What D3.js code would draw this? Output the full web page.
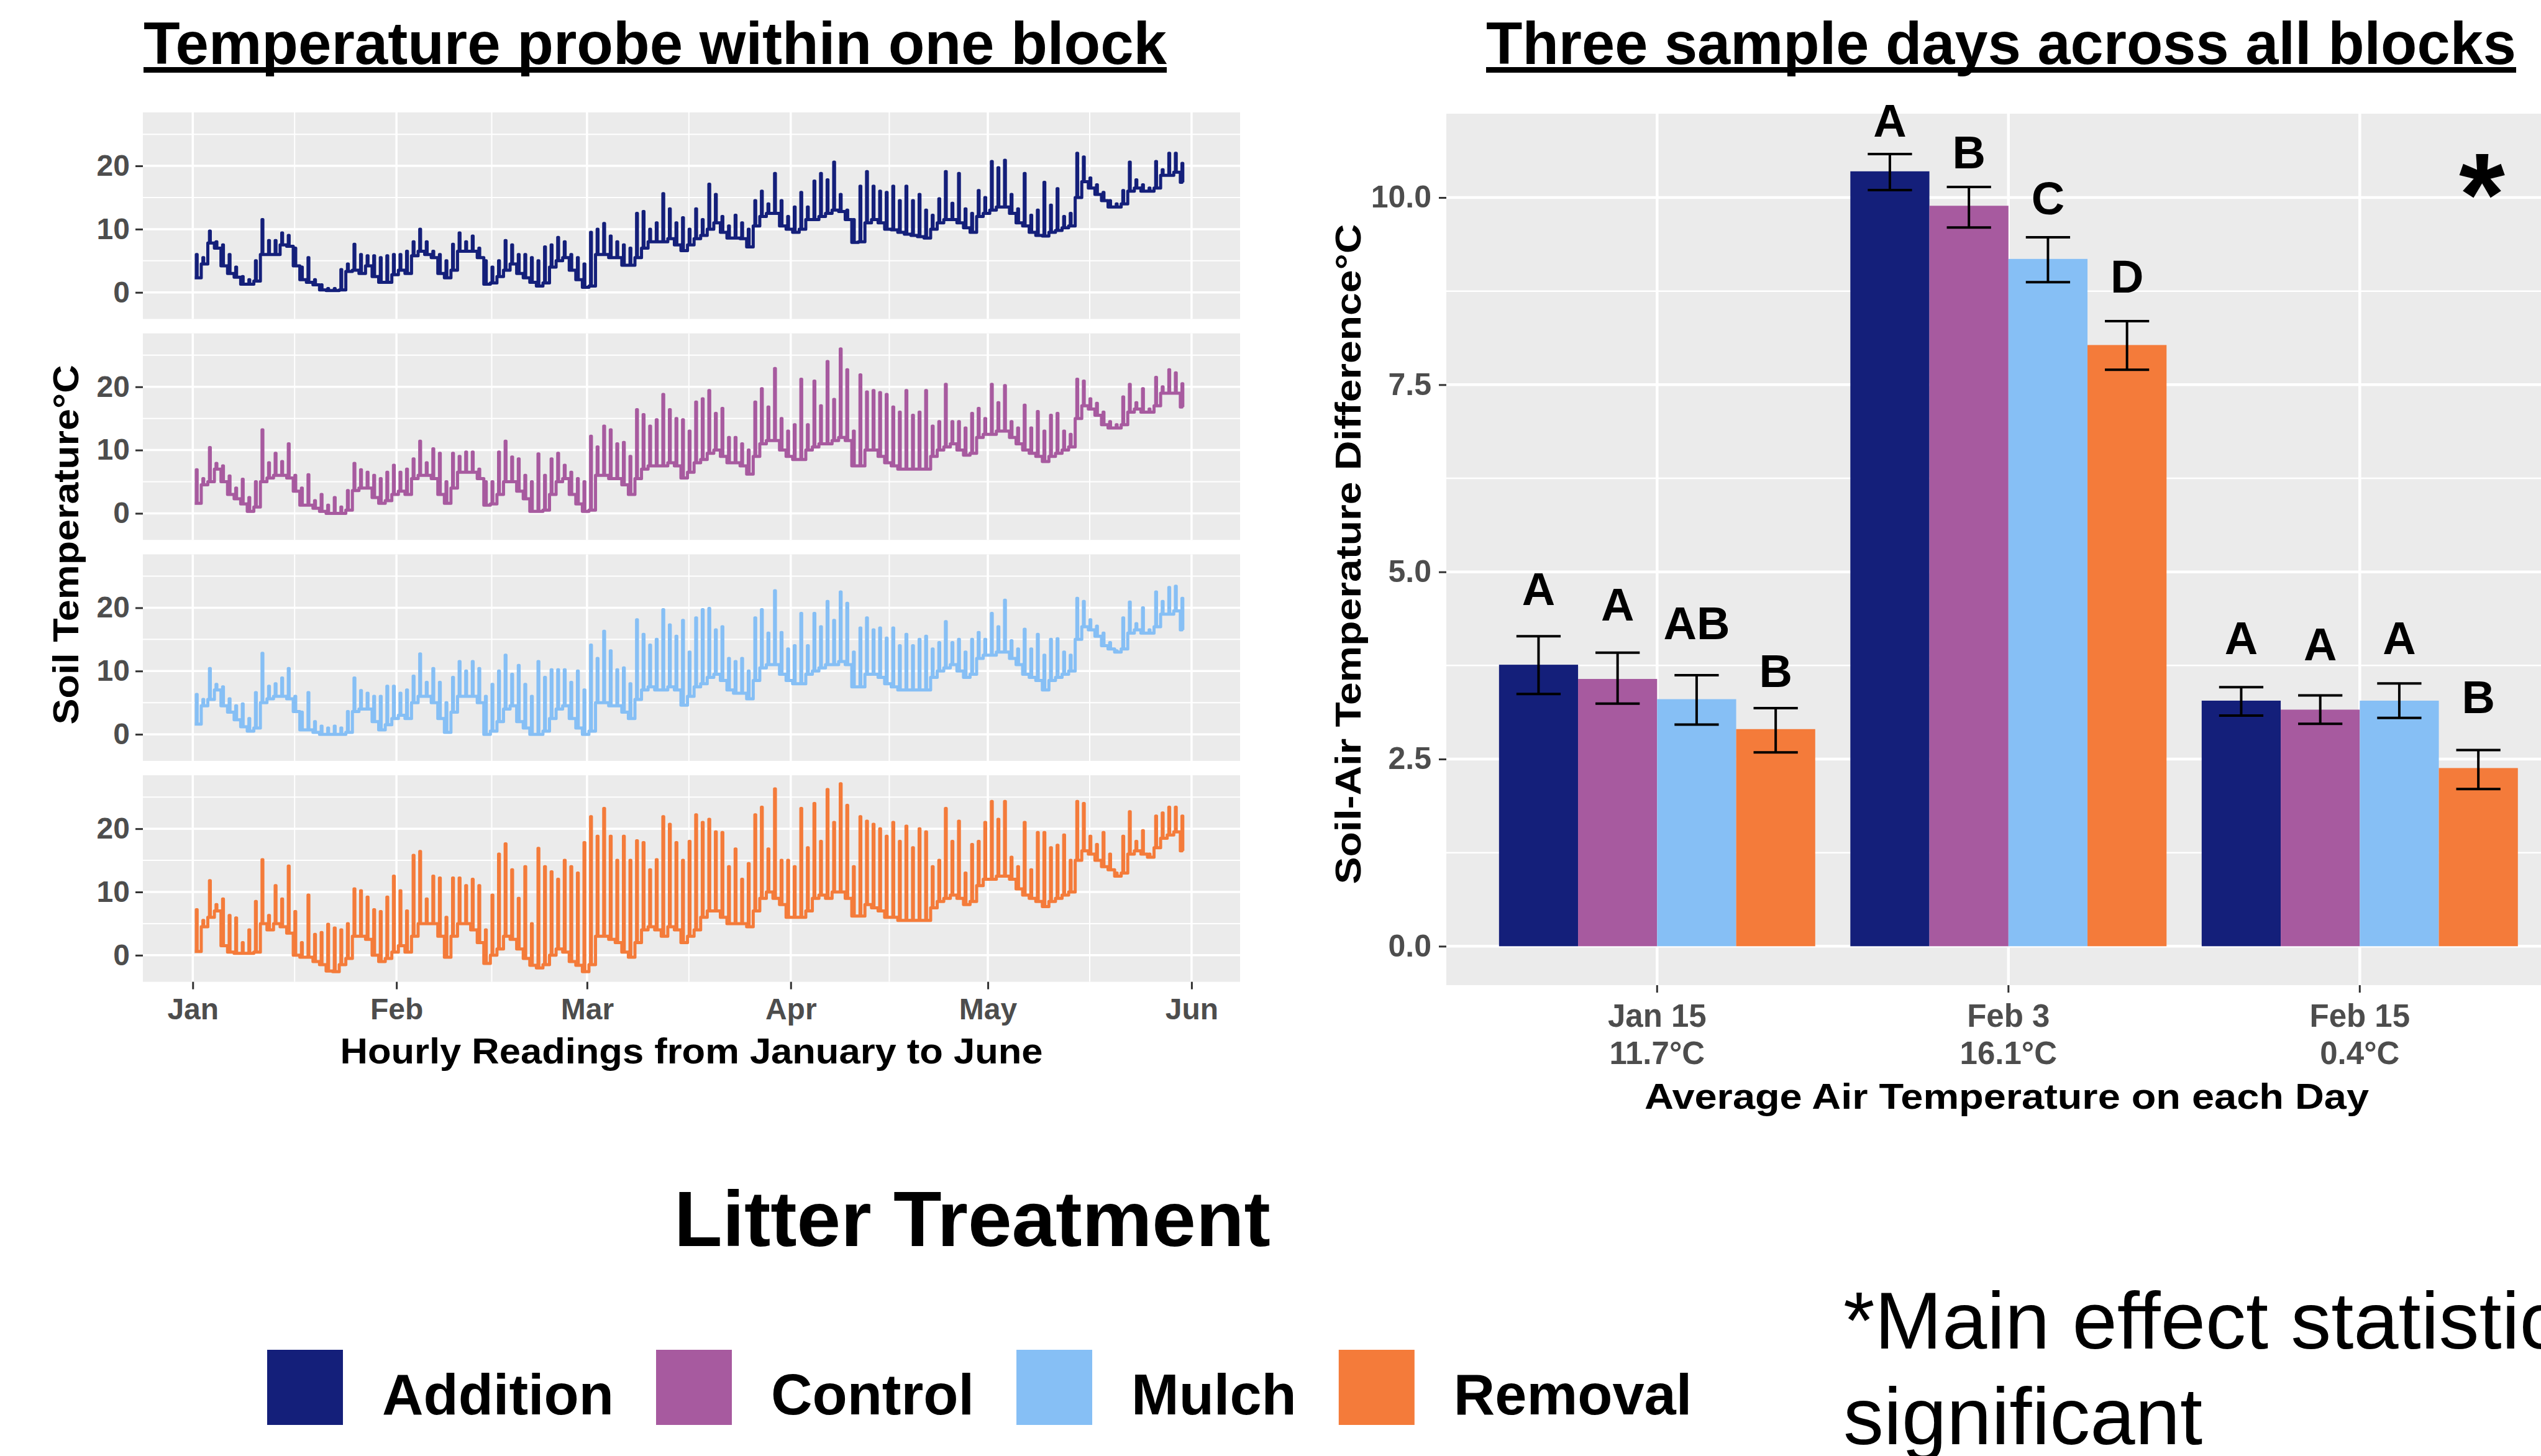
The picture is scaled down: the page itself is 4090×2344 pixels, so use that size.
<!DOCTYPE html>
<html>
<head>
<meta charset="utf-8">
<script src="https://cdn.jsdelivr.net/npm/d3@7"></script>
<style>
  body { margin: 0; background: #fff; }
  svg { display: block; font-family: "Liberation Sans", Arial, sans-serif; }
</style>
</head>
<body>
<svg id="figure" width="4090" height="2344"></svg>
<script>
//Litter treatments shared by both charts
const treatments = ["Addition", "Control", "Mulch", "Removal"];
const treatmentColors = ["#141F7A", "#A75A9F", "#86BFF5", "#F47B3A"];

//Daily high / low soil temperature, Jan 1 to May 31 2020
const additionHigh = [6, 5.5, 9.7, 8, 7.5, 6, 4, 2.5, 2, 5,
  11.5, 8.2, 8.2, 9.4, 9, 7, 4, 5.5, 2, 1.2,
  0.6, 0.6, 3.6, 4.5, 7.6, 6, 5.8, 5.8, 5.5, 5.8,
  6, 6, 6.5, 8, 10, 8, 6.5, 6, 5, 7.6,
  9.4, 8, 8.9, 7, 5, 4, 5, 8.2, 7.5, 6,
  6, 5.5, 5, 7.2, 7.5, 8.7, 8, 6, 5.5, 4.5,
  9.5, 10, 10.9, 8.9, 8, 7.5, 7, 12.5, 12.8, 10,
  11, 15.6, 13.2, 11, 11.8, 10, 13.2, 11.5, 17.1, 15.5,
  12, 10.5, 12.2, 11, 10, 14.5, 16, 14, 18.8, 14.5,
  12, 13.5, 15.8, 13.5, 17.6, 18.8, 17.8, 20.6, 15.5, 13,
  11.5, 16.8, 19.1, 16.8, 16, 15.8, 16.8, 14.5, 16.8, 14.5,
  15.5, 13, 12.2, 14.8, 19.1, 14.1, 18.8, 13.2, 12.5, 16.1,
  15, 20.7, 19.7, 20.9, 15.5, 13.2, 18.8, 12.2, 13, 17.4,
  13.8, 16.4, 12, 12.5, 22, 21.4, 18.1, 17, 15.8, 14.5,
  14, 16.1, 20.6, 17.8, 17, 16.5, 20.7, 19.4, 22, 22, 20.4];
const additionLow = [2.3, 4.5, 7.8, 7, 4.2, 3, 2.4, 1.3, 1.3, 1.8,
  6, 6, 6, 7.5, 7.3, 4.2, 2, 1.6, 1.2, 0.4,
  0.3, 0.3, 0.4, 3.3, 3.5, 3, 4.2, 2.5, 1.6, 1.6,
  2.8, 3.5, 3, 5.8, 6.5, 6, 5.5, 3, 2.3, 3.5,
  6.5, 6.5, 6.5, 5.5, 1.3, 1.5, 2.5, 3.5, 4.5, 3,
  2.3, 1.6, 1, 1.5, 4, 5, 5.5, 3.5, 2, 0.8,
  1, 6, 6, 5.5, 5.5, 4.3, 4.3, 5.5, 7, 8,
  8, 8, 8.5, 7.5, 6.6, 7.5, 8.5, 9, 10, 11,
  9.5, 8.6, 8.6, 8.5, 7.2, 10.5, 12, 12.5, 12.5, 10.5,
  10, 9.5, 10, 11.5, 11.5, 12, 12.5, 13, 12.8, 11.5,
  7.9, 8, 11, 11.5, 11, 10, 9.9, 9.5, 9.2, 9,
  8.8, 8.6, 10, 11, 11.5, 11.5, 11, 10.2, 9.5, 12,
  12.5, 13, 13.5, 13.5, 12.5, 11, 10.5, 9.5, 9, 8.9,
  9.5, 9.8, 10.2, 10.5, 15, 17.5, 16.5, 15.5, 14.5, 13.5,
  13.5, 14, 16, 16.5, 16, 16, 16.5, 18.5, 18.5, 19, 17.4];

const controlHigh = [6.9, 5.5, 10.4, 7.9, 7.5, 5.9, 4, 5.4, 2.5, 5,
  13.2, 8, 9.5, 8.2, 11, 6, 4, 6.1, 2, 3,
  1.3, 2.5, 1, 3.6, 7.9, 6.9, 6.5, 6, 5.5, 6.5,
  7.6, 6.5, 7, 8.6, 11.4, 8, 10.2, 9.5, 5, 9.5,
  9, 9.7, 9.7, 7, 5, 5, 9.7, 11.4, 8.9, 8.6,
  6, 5, 9.4, 6, 8.6, 9.5, 7.6, 6.5, 5.5, 5,
  12.2, 10.5, 13.8, 13.2, 11, 11.2, 9, 16.4, 15.6, 13.8,
  14.8, 18.8, 16.4, 15, 14.8, 13, 17.6, 18.1, 19.4, 15.8,
  16.6, 12, 12, 11, 10, 17.6, 19.7, 16.8, 22.9, 15,
  13, 14, 21.2, 14, 20.9, 17, 24, 18, 26, 22.7,
  13, 21.9, 19.2, 19.4, 19.1, 18.8, 16.8, 16, 19.4, 15.5,
  16, 19.4, 13.8, 14.5, 20.4, 14.5, 14.5, 13.5, 15.8, 16.6,
  15, 20.4, 17.5, 20.2, 14.5, 13.5, 17.1, 13.5, 16.1, 13,
  15.5, 15.8, 13, 12.5, 21.2, 20.9, 18.1, 17.4, 16, 14.5,
  14, 18.4, 20.4, 17.5, 19.7, 16.5, 21.5, 20, 22.7, 22.2, 20.5];
const controlLow = [1.6, 4.5, 5, 7, 5, 3, 2.3, 1.5, 0.3, 1,
  5, 5.6, 6, 6, 5.6, 3.5, 1.3, 1.3, 0.8, 0.3,
  0, 0, 0, 0.5, 3.6, 4, 4, 2.5, 1.6, 2,
  3, 3.5, 3, 5.5, 6, 6, 5.5, 3, 1.6, 4,
  6.5, 6.5, 6.5, 5.5, 1.3, 1.5, 3, 5, 5, 3.5,
  2.3, 0.3, 0.3, 0.5, 3, 5, 5.5, 3, 1.5, 0.3,
  0.5, 6, 6, 5.5, 5.5, 4.5, 3, 5.5, 7, 7.5,
  7.5, 7.5, 8, 7.5, 5.6, 6.5, 8, 8.5, 9.5, 10,
  9, 8, 8, 7.5, 6.2, 9, 11, 11.5, 11.5, 10,
  9, 8.5, 8.5, 10, 10.5, 11, 11, 11.5, 12, 11.5,
  7.5, 7.5, 10, 10, 9, 8, 7.5, 7, 7, 7,
  7, 7, 9, 10, 10.5, 11, 10, 9.2, 9.5, 12,
  12.5, 12.5, 13, 13, 12, 11, 10, 9.5, 9, 8.2,
  9, 9.5, 10, 10.5, 15, 17, 16.5, 15.5, 14, 13.5,
  13.5, 14, 16, 16.5, 16, 16, 17, 19, 19, 19, 16.8];

const mulchHigh = [6.3, 5.5, 10.4, 7.9, 7.5, 5.6, 4.5, 4.8, 2.5, 6.6,
  12.8, 7.6, 8, 8.9, 10.4, 6, 3.5, 6.6, 2, 1.3,
  1, 1.3, 1, 3.6, 8.9, 6.9, 6.5, 6, 6, 7.6,
  7.6, 6.5, 7, 9.2, 12.7, 8.2, 10.4, 8.2, 5, 9,
  11.5, 10, 11.5, 10.4, 6, 7.9, 10, 12.5, 9.5, 10.9,
  7.9, 6, 11.5, 9, 10.2, 10.2, 10.2, 8.2, 10, 7,
  14.1, 12, 16.3, 13.2, 10.2, 10.5, 8, 18.1, 15.8, 14.1,
  15, 19.7, 17.3, 15.5, 18, 13, 18.4, 19.7, 19.9, 16.5,
  17, 12, 11.5, 12, 10, 18.4, 19.7, 16, 22.7, 16.1,
  13.5, 14, 19.1, 14, 19.1, 17, 21, 18, 22.5, 20.7,
  13, 16.8, 18.4, 16.5, 16.8, 15.2, 16.8, 14, 15.8, 14,
  15, 15.5, 13.5, 14.5, 17.8, 14.5, 15, 13, 15, 16.1,
  15, 19.1, 17, 21.2, 14.8, 13.5, 16.6, 13.5, 15.8, 12.5,
  15, 15.1, 13, 12.5, 21.5, 21, 18.1, 17.1, 16, 14.5,
  13.2, 18.4, 20.9, 17.5, 20, 16.5, 22.5, 21, 23.2, 23.4, 21.5];
const mulchLow = [1.6, 4.5, 5.5, 7, 4.5, 3.5, 2.3, 1.2, 0.5, 1,
  5, 5.6, 6, 6, 5.6, 3.6, 0.7, 0.7, 0.3, 0,
  0, 0, 0, 0.3, 3.6, 4, 4, 2, 0.7, 1.5,
  2.5, 3, 2.5, 5, 6, 6, 5, 2.5, 0.3, 3.5,
  6, 6, 6, 5, 0, 0.5, 2, 4, 4.5, 2,
  1, 0, 0, 0.5, 2.5, 4, 4.5, 2.5, 1, 0,
  0.5, 5, 5, 4.5, 4.5, 3.5, 2.5, 5.5, 7, 7.5,
  7, 7, 7.5, 7, 4.6, 6, 7.5, 8, 9, 9.5,
  8.5, 7, 6.5, 6.5, 5.6, 8.5, 10.5, 11, 11, 9.5,
  8.5, 8, 8, 9.5, 10, 10.5, 11, 11, 11.5, 11,
  7.5, 7.5, 9.5, 9.5, 9, 8, 7.5, 7, 7, 7,
  7, 7, 9, 10, 10.5, 11, 10, 9, 9.5, 12,
  12.5, 12.5, 13, 13, 12, 11, 9.5, 9, 8.5, 7,
  8.5, 9, 9.5, 10, 15, 17, 16.5, 15.5, 14, 13.5,
  13, 13.5, 16, 16.5, 16, 16, 17, 19, 19, 19.5, 16.5];

const removalHigh = [7.2, 5.5, 11.8, 8, 8.9, 6.3, 5.9, 2, 4, 8.5,
  15.1, 6.3, 11, 8.9, 14.1, 6.9, 2, 9.5, 3.3, 3.6,
  4.9, 4.3, 4, 5, 10.5, 10.2, 9.2, 7.2, 6.9, 9.2,
  12.5, 10.2, 7, 15.8, 16.4, 8.9, 12.5, 12.2, 6, 12.2,
  12.2, 11, 12, 11, 4, 9.5, 16, 17.6, 13.5, 9,
  14, 5, 16.9, 14, 13.2, 12, 15, 14, 13, 17.8,
  21.9, 18.8, 23.2, 18.8, 15, 18.8, 15, 18.1, 17.8, 13.5,
  15.1, 21.9, 20.7, 17.8, 15, 18, 22.2, 21, 21.5, 19.5,
  19.4, 14, 16.8, 12, 14.5, 22.2, 23.4, 16.8, 26.3, 15,
  15, 14, 23.2, 17, 24, 18, 26.2, 21, 27.1, 23.7,
  14, 21.9, 21.2, 20.7, 20, 18.8, 21, 18, 20.4, 17,
  20, 19.5, 14, 15, 23.2, 18, 21.2, 13, 17.5, 18,
  21, 24.3, 21.5, 24.3, 15.5, 14, 21, 13.5, 19.4, 19.4,
  17, 17.4, 19, 15, 24.3, 24, 18.8, 17.5, 19.4, 16,
  13, 18.8, 22.7, 18, 19.7, 16, 22, 22.5, 23.4, 23.4, 22];
const removalLow = [0.6, 4.5, 6, 7, 1.5, 0.5, 0.3, 0.3, 0.3, 0.5,
  5, 4, 5, 4.5, 3.5, 0, -0.3, -0.3, -1, -1.5,
  -2.5, -2.6, -1.5, -0.5, 3, 3, 2.5, 0, -1, -0.5,
  0.5, 1.5, 0.5, 3, 5, 5, 5, 3, -0.3, 3,
  5, 5, 4, 2, -1.3, 0, 1, 3, 2.5, 1,
  -0.5, -1.6, -2, -1.5, 0, 1, 0.5, -1, -1.6, -2.6,
  -1.5, 3, 3, 2.5, 2, 0.5, -0.3, 2, 4, 4.5,
  4, 3, 4.5, 4, 2, 3, 4, 6, 7, 7,
  6, 5, 5, 5, 4.5, 7, 9, 10, 9, 8,
  6, 6, 6, 7, 9, 9.5, 9, 10, 10, 9,
  6.2, 6.2, 8, 7.5, 7, 6, 6, 5.5, 5.5, 5.5,
  5.5, 5.5, 7.5, 8.5, 9, 9.5, 9, 8, 8.5, 11,
  12, 12, 12.5, 12.5, 12, 10.5, 9.5, 9, 8.5, 7.7,
  8.5, 9, 9.5, 10, 15, 16.5, 16, 15, 14, 13.5,
  12.5, 13, 16, 16.5, 16, 15.5, 17, 18.5, 19, 19.5, 16.5];

const probeHigh = [additionHigh, controlHigh, mulchHigh, removalHigh];
const probeLow = [additionLow, controlLow, mulchLow, removalLow];
const probeTicks = [0, 10, 20];
const monthLabels = ["Jan", "Feb", "Mar", "Apr", "May", "Jun"];

//Soil minus air temperature on three sample days (mean and error bar limits)
const sampleDays = ["Jan 15", "Feb 3", "Feb 15"];
const airTemps = ["11.7°C", "16.1°C", "0.4°C"];
const meanDiff = [[3.76, 3.57, 3.30, 2.90], [10.35, 9.89, 9.18, 8.03], [3.28, 3.16, 3.28, 2.38]];
const diffUpper = [[4.14, 3.92, 3.62, 3.18], [10.58, 10.14, 9.47, 8.35], [3.46, 3.35, 3.51, 2.62]];
const diffLower = [[3.37, 3.24, 2.96, 2.59], [10.10, 9.60, 8.87, 7.70], [3.08, 2.97, 3.05, 2.10]];
const letters = [["A", "A", "AB", "B"], ["A", "B", "C", "D"], ["A", "A", "A", "B"]];
const letterY = [[4.56, 4.35, 4.10, 3.46], [10.81, 10.39, 9.78, 8.73], [3.90, 3.82, 3.90, 3.11]];
const diffTicks = [0, 2.5, 5, 7.5, 10];

const svg = d3.select("#figure");
const panelFill = "#EBEBEB";
const tickGrey = "#4D4D4D";

//Plain text helper
function addText(g, x, y, str, size, opts = {}) {
  const t = g.append("text")
    .attr("x", x)
    .attr("y", y)
    .attr("font-size", size)
    .attr("font-weight", opts.weight || "bold")
    .attr("fill", opts.fill || "#000")
    .attr("text-anchor", opts.anchor || "start")
    .text(str);
  if (opts.length) t.attr("textLength", opts.length).attr("lengthAdjust", "spacingAndGlyphs");
  if (opts.rotate) t.attr("transform", "rotate(-90," + x + "," + y + ")");
  return t;
}

//Title with a drawn underline
function addTitle(x, str, width) {
  addText(svg, x, 103, str, 97, { length: width });
  svg.append("rect").attr("x", x).attr("y", 108).attr("width", width).attr("height", 9).attr("fill", "#000");
}

addTitle(231, "Temperature probe within one block", 1647);
addTitle(2392, "Three sample days across all blocks", 1658);

// ---------- Left: faceted probe traces ----------
const probe = {};
probe.left = 230;
probe.right = 1996;
probe.top = 181;
probe.panelHeight = 332.5;
probe.gap = 23.2;

const firstReading = new Date(2020, 0, 1);
const lastReading = new Date(2020, 4, 31, 19);
const span = lastReading - firstReading;

probe.x = d3
  .scaleTime()
  .domain([new Date(+firstReading - 0.05 * span), new Date(+lastReading + 0.05 * span)])
  .range([probe.left, probe.right]);

probe.months = d3.timeMonth.range(new Date(2020, 0, 1), new Date(2020, 5, 2));
probe.minorX = d3.pairs(probe.months.map(probe.x)).map(([a, b]) => (a + b) / 2);

//Turn the daily highs and lows into a stepped trace (afternoon spike on each day)
function dailyPoints(high, low) {
  const pts = [];
  high.forEach((h, i) => {
    const day = d3.timeDay.offset(firstReading, i);
    pts.push({ t: d3.timeHour.offset(day, 7), v: low[i] });
    pts.push({ t: d3.timeHour.offset(day, 13), v: h });
    pts.push({ t: d3.timeHour.offset(day, 16), v: low[i] });
  });
  return pts;
}

treatments.forEach((name, k) => {
  const top = probe.top + k * (probe.panelHeight + probe.gap);
  const bottom = top + probe.panelHeight;
  const y = d3.scaleLinear().domain([-4.2, 28.45]).range([bottom, top]);
  const g = svg.append("g");

  g.append("rect")
    .attr("x", probe.left).attr("y", top)
    .attr("width", probe.right - probe.left).attr("height", probe.panelHeight)
    .attr("fill", panelFill);

  //minor then major grid
  g.selectAll(".hminor").data([5, 15, 25]).join("line")
    .attr("x1", probe.left).attr("x2", probe.right)
    .attr("y1", y).attr("y2", y)
    .attr("stroke", "#fff").attr("stroke-width", 2);
  g.selectAll(".vminor").data(probe.minorX).join("line")
    .attr("x1", (d) => d).attr("x2", (d) => d)
    .attr("y1", top).attr("y2", bottom)
    .attr("stroke", "#fff").attr("stroke-width", 2);
  g.selectAll(".hmajor").data(probeTicks).join("line")
    .attr("x1", probe.left).attr("x2", probe.right)
    .attr("y1", y).attr("y2", y)
    .attr("stroke", "#fff").attr("stroke-width", 3.5);
  g.selectAll(".vmajor").data(probe.months).join("line")
    .attr("x1", probe.x).attr("x2", probe.x)
    .attr("y1", top).attr("y2", bottom)
    .attr("stroke", "#fff").attr("stroke-width", 3.5);

  //y axis
  const yAxis = g.append("g")
    .attr("transform", "translate(" + probe.left + ",0)")
    .call(d3.axisLeft(y).tickValues(probeTicks).tickSize(12).tickPadding(9));
  yAxis.select(".domain").remove();
  yAxis.selectAll("line").attr("stroke", "#333").attr("stroke-width", 3);
  yAxis.selectAll("text")
    .attr("font-size", 48).attr("font-weight", "bold").attr("fill", tickGrey)
    .attr("font-family", "Liberation Sans, Arial, sans-serif");

  //trace
  const line = d3.line()
    .x((d) => probe.x(d.t))
    .y((d) => y(d.v))
    .curve(d3.curveStepAfter);

  g.append("path")
    .datum(dailyPoints(probeHigh[k], probeLow[k]))
    .attr("d", line)
    .attr("fill", "none")
    .attr("stroke", treatmentColors[k])
    .attr("stroke-width", 5)
    .attr("stroke-linejoin", "round");

  //x axis only under the last panel
  if (k === treatments.length - 1) {
    const xAxis = g.append("g")
      .attr("transform", "translate(0," + bottom + ")")
      .call(d3.axisBottom(probe.x).tickValues(probe.months)
        .tickFormat((d, i) => monthLabels[i]).tickSize(12).tickPadding(14));
    xAxis.select(".domain").remove();
    xAxis.selectAll("line").attr("stroke", "#333").attr("stroke-width", 3);
    xAxis.selectAll("text")
      .attr("font-size", 48).attr("font-weight", "bold").attr("fill", tickGrey)
      .attr("font-family", "Liberation Sans, Arial, sans-serif");
  }
});

addText(svg, (probe.left + probe.right) / 2, 1712, "Hourly Readings from January to June", 58,
  { anchor: "middle", length: 1131 });
addText(svg, 126, 877, "Soil Temperature°C", 58, { anchor: "middle", rotate: true, length: 579 });

// ---------- Right: grouped bars ----------
const bars = {};
bars.left = 2328;
bars.top = 183;
bars.bottom = 1586;
bars.step = 565.5;
bars.right = bars.left + 3.2 * bars.step;

bars.x = d3.scaleBand().domain(sampleDays).range([bars.left, bars.right])
  .paddingInner(0.1).paddingOuter(0.15);
bars.inner = d3.scaleBand().domain(treatments).range([0, bars.x.bandwidth()]);
bars.y = d3.scaleLinear().domain([-0.52, 11.12]).range([bars.bottom, bars.top]);

const bg = svg.append("g");
bg.append("rect")
  .attr("x", bars.left).attr("y", bars.top)
  .attr("width", bars.right - bars.left).attr("height", bars.bottom - bars.top)
  .attr("fill", panelFill);

bg.selectAll(".hminor").data([1.25, 3.75, 6.25, 8.75]).join("line")
  .attr("x1", bars.left).attr("x2", bars.right)
  .attr("y1", bars.y).attr("y2", bars.y)
  .attr("stroke", "#fff").attr("stroke-width", 2.5);
bg.selectAll(".hmajor").data(diffTicks).join("line")
  .attr("x1", bars.left).attr("x2", bars.right)
  .attr("y1", bars.y).attr("y2", bars.y)
  .attr("stroke", "#fff").attr("stroke-width", 4.5);
bg.selectAll(".vmajor").data(sampleDays).join("line")
  .attr("x1", (d) => bars.x(d) + bars.x.bandwidth() / 2)
  .attr("x2", (d) => bars.x(d) + bars.x.bandwidth() / 2)
  .attr("y1", bars.top).attr("y2", bars.bottom)
  .attr("stroke", "#fff").attr("stroke-width", 4.5);

//flatten into one record per bar
const barRecords = [];
sampleDays.forEach((day, i) => {
  treatments.forEach((t, j) => {
    barRecords.push({
      day, t, j,
      mean: meanDiff[i][j], lo: diffLower[i][j], hi: diffUpper[i][j],
      letter: letters[i][j], letterAt: letterY[i][j]
    });
  });
});

const bw = bars.inner.bandwidth();
const barX = (d) => bars.x(d.day) + bars.inner(d.t);

bg.selectAll(".bar").data(barRecords).join("rect")
  .attr("x", barX)
  .attr("y", (d) => bars.y(d.mean))
  .attr("width", bw)
  .attr("height", (d) => bars.y(0) - bars.y(d.mean))
  .attr("fill", (d) => treatmentColors[d.j]);

//error bars
const cap = bw * 0.28;
const errs = bg.selectAll(".err").data(barRecords).join("g")
  .attr("stroke", "#000").attr("stroke-width", 4);
errs.append("line")
  .attr("x1", (d) => barX(d) + bw / 2).attr("x2", (d) => barX(d) + bw / 2)
  .attr("y1", (d) => bars.y(d.lo)).attr("y2", (d) => bars.y(d.hi));
errs.append("line")
  .attr("x1", (d) => barX(d) + bw / 2 - cap).attr("x2", (d) => barX(d) + bw / 2 + cap)
  .attr("y1", (d) => bars.y(d.hi)).attr("y2", (d) => bars.y(d.hi));
errs.append("line")
  .attr("x1", (d) => barX(d) + bw / 2 - cap).attr("x2", (d) => barX(d) + bw / 2 + cap)
  .attr("y1", (d) => bars.y(d.lo)).attr("y2", (d) => bars.y(d.lo));

//significance letters
bg.selectAll(".letter").data(barRecords).join("text")
  .attr("x", (d) => barX(d) + bw / 2)
  .attr("y", (d) => bars.y(d.letterAt))
  .attr("text-anchor", "middle")
  .attr("font-size", 74)
  .attr("font-weight", "bold")
  .text((d) => d.letter);

addText(bg, 3995, 378, "*", 190, { anchor: "middle" });

//y axis
const byAxis = bg.append("g")
  .attr("transform", "translate(" + bars.left + ",0)")
  .call(d3.axisLeft(bars.y).tickValues(diffTicks).tickFormat(d3.format(".1f")).tickSize(12).tickPadding(12));
byAxis.select(".domain").remove();
byAxis.selectAll("line").attr("stroke", "#333").attr("stroke-width", 3);
byAxis.selectAll("text")
  .attr("font-size", 50).attr("font-weight", "bold").attr("fill", tickGrey)
  .attr("font-family", "Liberation Sans, Arial, sans-serif");

//x axis with two-line labels
const bxAxis = bg.append("g")
  .attr("transform", "translate(0," + bars.bottom + ")")
  .call(d3.axisBottom(bars.x).tickSize(12).tickFormat(""));
bxAxis.select(".domain").remove();
bxAxis.selectAll("line").attr("stroke", "#333").attr("stroke-width", 3);

sampleDays.forEach((day, i) => {
  const cx = bars.x(day) + bars.x.bandwidth() / 2;
  addText(bg, cx, 1653, day, 51, { anchor: "middle", fill: tickGrey });
  addText(bg, cx, 1713, airTemps[i], 51, { anchor: "middle", fill: tickGrey });
});

addText(svg, 3230, 1785, "Average Air Temperature on each Day", 58, { anchor: "middle", length: 1166 });
addText(svg, 2190, 892, "Soil-Air Temperature Difference°C", 58, { anchor: "middle", rotate: true, length: 1063 });

// ---------- Legend ----------
addText(svg, 1565, 2006, "Litter Treatment", 127, { anchor: "middle" });

let legendX = 430;
treatments.forEach((name, k) => {
  svg.append("rect")
    .attr("x", legendX).attr("y", 2173)
    .attr("width", 122).attr("height", 121)
    .attr("fill", treatmentColors[k]);
  const label = addText(svg, legendX + 122 + 63, 2277, name, 92);
  legendX += 122 + 63 + label.node().getComputedTextLength() + 68;
});

// ---------- Footnote ----------
addText(svg, 2967, 2171, "*Main effect statistically", 130, { weight: "normal" });
addText(svg, 2967, 2325, "significant", 130, { weight: "normal" });
</script>
</body>
</html>
